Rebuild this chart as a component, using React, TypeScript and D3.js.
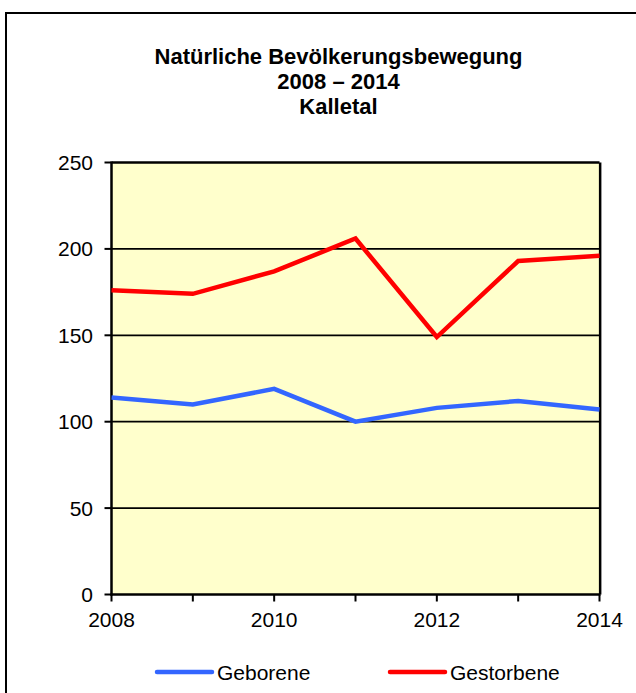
import React from "react";
import * as d3 from "d3";

const years = [2008, 2009, 2010, 2011, 2012, 2013, 2014];
const geborene = [114, 110, 119, 100, 108, 112, 107];
const gestorbene = [176, 174, 187, 206, 149, 193, 196];
const yTicks = [0, 50, 100, 150, 200, 250];
const xLabelYears = [2008, 2010, 2012, 2014];
const titleLines = ["Natürliche Bevölkerungsbewegung", "2008 – 2014", "Kalletal"];
const seriesNames = ["Geborene", "Gestorbene"];
const seriesColors = ["#3366FF", "#FF0000"];

export default function App() {
  const W = 636, H = 693;
  const left = 111.5, right = 599.5, top = 162.5, bottom = 594.5;
  const x = d3.scaleLinear().domain([2008, 2014]).range([left, right]);
  const y = d3.scaleLinear().domain([0, 250]).range([bottom, top]);
  const line = d3.line<number>().x((_, i) => x(years[i])).y((d) => y(d));
  const font = "Arial, 'Liberation Sans', sans-serif";
  const series = [geborene, gestorbene];

  return (
    <svg width={W} height={H} style={{ position: "absolute", left: 0, top: 0, background: "#fff" }} fontFamily={font}>
      <rect x={6} y={13} width={W + 20} height={H + 20} fill="#fff" stroke="#000" strokeWidth={2} />
      {titleLines.map((t, i) => (
        <text key={t} x={338.5} y={64 + i * 25} textAnchor="middle" fontWeight="bold" fontSize={22} fill="#000">
          {t}
        </text>
      ))}
      <rect x={left} y={top} width={right - left} height={bottom - top} fill="#FFFFCC" />
      {yTicks.filter((v) => v > 0).map((v) => (
        <line key={v} x1={left} x2={right} y1={y(v)} y2={y(v)} stroke="#000" strokeWidth={v === 250 ? 2.5 : 1.8} />
      ))}
      <line x1={right + 0.5} x2={right + 0.5} y1={top} y2={bottom} stroke="#000" strokeWidth={2.2} />
      <line x1={right + 2} x2={right + 2} y1={top} y2={bottom} stroke="#999" strokeWidth={1} />
      <line x1={left} x2={left} y1={top - 1} y2={bottom + 1} stroke="#000" strokeWidth={2.5} />
      <line x1={left - 1} x2={right + 1} y1={bottom} y2={bottom} stroke="#000" strokeWidth={2.5} />
      {yTicks.map((v) => (
        <g key={v}>
          <line x1={left - 7} x2={left} y1={y(v)} y2={y(v)} stroke="#000" strokeWidth={2} />
          <text x={93} y={y(v) + 7.5} textAnchor="end" fontSize={21} fill="#000">
            {v}
          </text>
        </g>
      ))}
      {years.map((yr) => (
        <line key={yr} x1={x(yr)} x2={x(yr)} y1={bottom} y2={bottom + 7} stroke="#000" strokeWidth={2} />
      ))}
      {xLabelYears.map((yr) => (
        <text key={yr} x={x(yr)} y={627} textAnchor="middle" fontSize={21} fill="#000">
          {yr}
        </text>
      ))}
      {series.map((s, i) => (
        <path key={i} d={line(s) || ""} fill="none" stroke={seriesColors[i]} strokeWidth={4.5} strokeLinejoin="miter" />
      ))}
      {seriesNames.map((n, i) => (
        <g key={n} transform={`translate(${157 + i * 233},672)`}>
          <line x1={0} x2={55} y1={0} y2={0} stroke={seriesColors[i]} strokeWidth={4.5} strokeLinecap="round" />
          <text x={60} y={7.5} fontSize={21} fill="#000">
            {n}
          </text>
        </g>
      ))}
    </svg>
  );
}
